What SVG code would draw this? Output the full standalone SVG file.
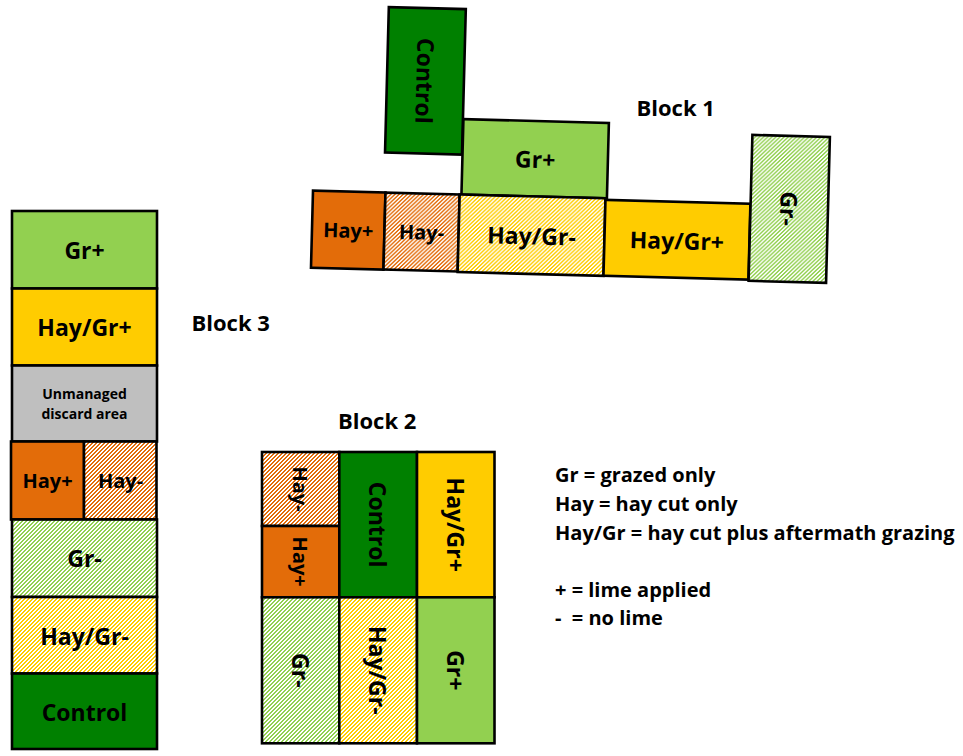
<svg xmlns="http://www.w3.org/2000/svg" width="963" height="756" viewBox="0 0 963 756">
<style>
.c{stroke:#000;stroke-width:2.6}
.grp{fill:#92D050}
.hgp{fill:#FFCC00}
.ctl{fill:#008000}
.hyp{fill:#E36C09}
.unm{fill:#BFBFBF}
.grm{fill:url(#hGr)}
.hym{fill:url(#hHay)}
.hgm{fill:url(#hHg)}
.px{shape-rendering:crispEdges}
text{font-family:"Open Sans","Noto Sans","Liberation Sans",sans-serif;font-weight:bold;fill:#000}
.t{font-size:23px;text-anchor:middle;dominant-baseline:central}
.s{font-size:20px;text-anchor:middle;dominant-baseline:central}
.u{font-size:14px;text-anchor:middle}
.b{font-size:22px}
.l{font-size:20px;white-space:pre}
</style>
<defs>
<path id="diag" class="px" d="M2 0h2v1h-2z M1 1h2v1h-2z M0 2h2v1h-2z M0 3h1v1h-1z M3 3h1v1h-1z"/>
<pattern id="hGr" width="4" height="4" patternUnits="userSpaceOnUse">
<rect class="px" width="4" height="4" fill="#fff"/><use href="#diag" fill="#92D050"/>
</pattern>
<pattern id="hHay" width="4" height="4" patternUnits="userSpaceOnUse">
<rect class="px" width="4" height="4" fill="#fff"/><use href="#diag" fill="#E36C09"/>
</pattern>
<pattern id="hHg" width="4" height="4" patternUnits="userSpaceOnUse">
<rect class="px" width="4" height="4" fill="#fff"/><use href="#diag" fill="#FFCC00"/>
</pattern>
</defs>
<rect width="963" height="756" fill="#fff"/>

<!-- Block 1 -->
<g id="block1" transform="translate(313,190.7) rotate(1.5)">
<g id="b1-control"><rect class="c ctl" x="71" y="-185.5" width="77" height="145.5"/><text class="t" transform="translate(109.5,-112.7) rotate(90)">Control</text></g>
<g id="b1-grplus"><rect class="c grp" x="148.5" y="-75.5" width="145.5" height="75.5"/><text class="t" x="221.3" y="-37.7">Gr+</text></g>
<g id="b1-hayplus"><rect class="c hyp" x="0" y="0" width="72.5" height="77"/><text class="s" x="36.3" y="38.5">Hay+</text></g>
<g id="b1-hayminus"><rect class="c hym" x="72.5" y="0" width="74.2" height="77"/><text class="s" x="109.6" y="38.5">Hay-</text></g>
<g id="b1-haygrminus"><rect class="c hgm" x="146.7" y="0" width="145.9" height="77.5"/><text class="t" x="219.6" y="39">Hay/Gr-</text></g>
<g id="b1-haygrplus"><rect class="c hgp" x="292.6" y="1.5" width="145" height="76"/><text class="t" x="365" y="40">Hay/Gr+</text></g>
<g id="b1-grminus"><rect class="c grm" x="437.8" y="-67.3" width="77.5" height="146"/><text class="t" transform="translate(476.5,5.5) rotate(90)">Gr-</text></g>
</g>
<text id="label-block1" class="b" x="636.5" y="116">Block 1</text>

<!-- Block 3 -->
<g id="block3">
<g id="b3-grplus"><rect class="c grp" x="12" y="211" width="145" height="77.5"/><text class="t" x="84.5" y="250">Gr+</text></g>
<g id="b3-haygrplus"><rect class="c hgp" x="12" y="288.5" width="145" height="77"/><text class="t" x="84.5" y="327">Hay/Gr+</text></g>
<g id="b3-unmanaged"><rect class="c unm" x="12" y="365.5" width="145" height="76"/><text class="u" x="84.5" y="399.3">Unmanaged</text><text class="u" x="84.5" y="419">discard area</text></g>
<g id="b3-hayplus"><rect class="c hyp" x="11" y="441.5" width="73" height="78"/><text class="s" x="47.5" y="480.5">Hay+</text></g>
<g id="b3-hayminus"><rect class="c hym" x="84" y="441.5" width="72.5" height="78"/><text class="s" x="120.5" y="480.5">Hay-</text></g>
<g id="b3-grminus"><rect class="c grm" x="12" y="519.5" width="145" height="77.5"/><text class="t" x="84.5" y="558">Gr-</text></g>
<g id="b3-haygrminus"><rect class="c hgm" x="12" y="597" width="145" height="76.5"/><text class="t" x="84.5" y="635.5">Hay/Gr-</text></g>
<g id="b3-control"><rect class="c ctl" x="12" y="673.5" width="145" height="75.5"/><text class="t" x="84.5" y="711.5">Control</text></g>
</g>
<text id="label-block3" class="b" x="191.5" y="330.5">Block 3</text>

<!-- Block 2 -->
<g id="block2">
<g id="b2-hayminus"><rect class="c hym" x="262" y="452" width="77.3" height="74"/><text class="s" transform="translate(300.6,489) rotate(90)">Hay-</text></g>
<g id="b2-hayplus"><rect class="c hyp" x="262" y="526" width="77.3" height="71.3"/><text class="s" transform="translate(300.6,561.7) rotate(90)">Hay+</text></g>
<g id="b2-control"><rect class="c ctl" x="339.3" y="452" width="77.7" height="145.3"/><text class="t" transform="translate(378.2,524.7) rotate(90)">Control</text></g>
<g id="b2-haygrplus"><rect class="c hgp" x="417" y="452" width="77.5" height="145.3"/><text class="t" transform="translate(455.8,524.7) rotate(90)">Hay/Gr+</text></g>
<g id="b2-grminus"><rect class="c grm" x="262" y="597.3" width="77.3" height="146"/><text class="t" transform="translate(300.6,670.3) rotate(90)">Gr-</text></g>
<g id="b2-haygrminus"><rect class="c hgm" x="339.3" y="597.3" width="77.7" height="146"/><text class="t" transform="translate(378.2,670.3) rotate(90)">Hay/Gr-</text></g>
<g id="b2-grplus"><rect class="c grp" x="417" y="597.3" width="77.5" height="146"/><text class="t" transform="translate(455.8,670.3) rotate(90)">Gr+</text></g>
</g>
<text id="label-block2" class="b" x="338" y="429.3">Block 2</text>

<!-- Legend -->
<g id="legend">
<text class="l" x="555" y="481.5">Gr = grazed only</text>
<text class="l" x="555" y="511">Hay = hay cut only</text>
<text class="l" x="555" y="540">Hay/Gr = hay cut plus aftermath grazing</text>
<text class="l" x="555" y="596.5">+ = lime applied</text>
<text class="l" x="555" y="625">-  = no lime</text>
</g>
<g id="connectors"/>
</svg>
